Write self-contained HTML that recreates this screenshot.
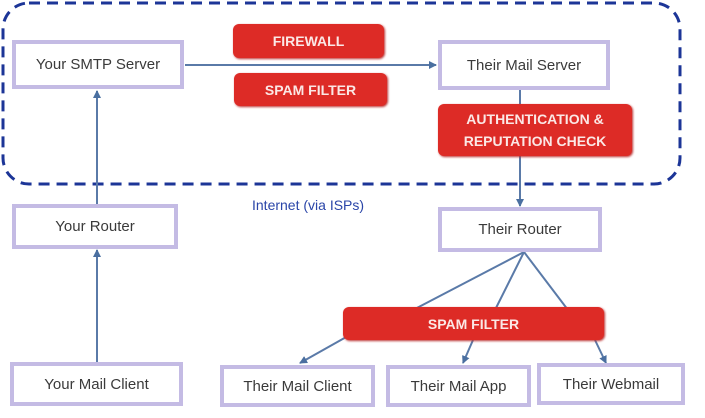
<!DOCTYPE html>
<html><head><style>
body{margin:0;width:705px;height:418px;background:#fff;overflow:hidden;position:relative;font-family:"Liberation Sans",sans-serif}
.b{position:absolute;box-sizing:border-box;border:4px solid #c4bbe4;background:#fff;display:flex;align-items:center;justify-content:center;font-size:15px;color:#3a3a3a}
.r{position:absolute;box-sizing:border-box;background:#dd2b26;border-radius:6px;color:#fbe8e6;font-weight:bold;font-size:14px;display:flex;align-items:center;justify-content:center;text-align:center;line-height:22px;box-shadow:1px 1px 2px #b33}
</style></head><body>
<svg width="705" height="418" style="position:absolute;left:0;top:0">
<defs><marker id="a" markerWidth="8" markerHeight="8" refX="7" refY="4" orient="auto" markerUnits="userSpaceOnUse"><path d="M0,0 L8,4 L0,8 Z" fill="#4a6fa0"/></marker></defs>
<rect x="3" y="3" width="677" height="181" rx="26" fill="none" stroke="#1c3597" stroke-width="3" stroke-dasharray="11 7"/>
<g stroke="#5a7aa8" stroke-width="2" fill="none">
<line x1="185" y1="65" x2="436" y2="65" marker-end="url(#a)"/>
<line x1="97" y1="204" x2="97" y2="91" marker-end="url(#a)"/>
<line x1="97" y1="362" x2="97" y2="250" marker-end="url(#a)"/>
<line x1="520" y1="90" x2="520" y2="104"/>
<line x1="520" y1="156" x2="520" y2="206" marker-end="url(#a)"/>
<line x1="524" y1="252" x2="413" y2="310"/>
<line x1="524" y1="252" x2="495" y2="310"/>
<line x1="524" y1="252" x2="568" y2="310"/>
<line x1="348" y1="336" x2="300" y2="363" marker-end="url(#a)"/>
<line x1="473" y1="340" x2="463" y2="363" marker-end="url(#a)"/>
<line x1="595" y1="340" x2="606" y2="363" marker-end="url(#a)"/>
</g>
</svg>
<div class="b" style="left:12px;top:40px;width:172px;height:49px">Your SMTP Server</div>
<div class="b" style="left:438px;top:40px;width:172px;height:50px">Their Mail Server</div>
<div class="r" style="left:233px;top:24px;width:151px;height:34px">FIREWALL</div>
<div class="r" style="left:234px;top:73px;width:153px;height:33px">SPAM FILTER</div>
<div class="r" style="left:438px;top:104px;width:194px;height:52px">AUTHENTICATION &amp;<br>REPUTATION CHECK</div>
<div style="position:absolute;left:252px;top:197px;font-size:14px;color:#2a45a8">Internet (via ISPs)</div>
<div class="b" style="left:12px;top:204px;width:166px;height:45px">Your Router</div>
<div class="b" style="left:438px;top:207px;width:164px;height:45px">Their Router</div>
<div class="r" style="left:343px;top:307px;width:261px;height:33px">SPAM FILTER</div>
<div class="b" style="left:10px;top:362px;width:173px;height:44px">Your Mail Client</div>
<div class="b" style="left:220px;top:365px;width:155px;height:42px">Their Mail Client</div>
<div class="b" style="left:386px;top:365px;width:145px;height:42px">Their Mail App</div>
<div class="b" style="left:537px;top:363px;width:148px;height:42px">Their Webmail</div>
</body></html>
